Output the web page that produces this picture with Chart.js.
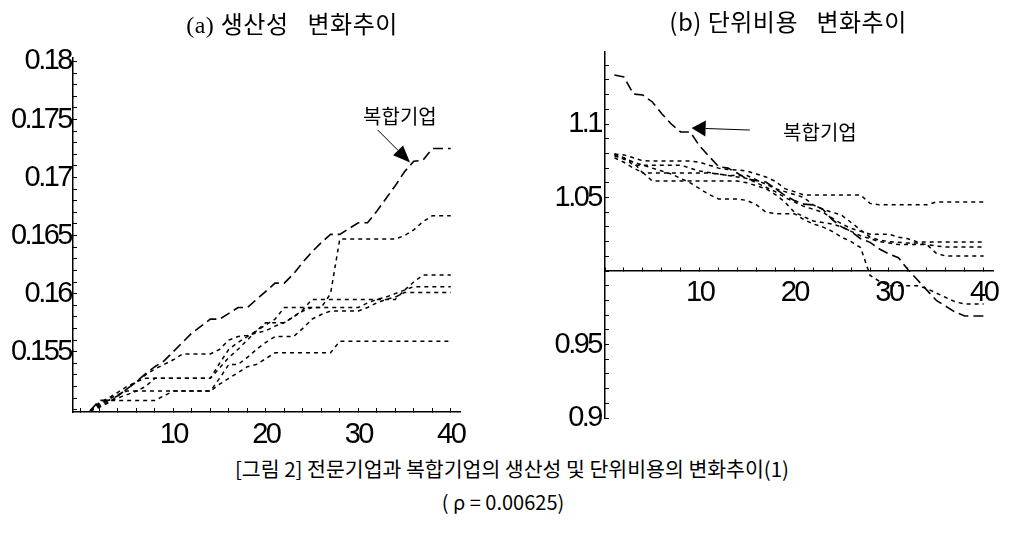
<!DOCTYPE html>
<html>
<head>
<meta charset="utf-8">
<script src="https://cdn.jsdelivr.net/npm/chart.js@4.4.0/dist/chart.umd.min.js"></script>
<style>
  html, body { margin: 0; padding: 0; background: #fff; }
  #wrap { position: relative; width: 1009px; height: 538px; overflow: hidden; }
  .box { position: absolute; top: 0; height: 450px; }
  #boxA { left: 0; width: 480px; }
  #boxB { left: 520px; width: 489px; }
  .txt { position: absolute; white-space: pre; transform: translate(-50%, -50%); color: #000; }
  #titleA { left: 292px; top: 22px; letter-spacing: 0.5px; font: 24px "Liberation Serif", "Noto Sans CJK KR", serif; }
  #titleB { left: 788px; top: 20px; letter-spacing: 0.5px; font: 24px "Noto Sans CJK KR", sans-serif; }
  #cap1 { left: 512px; top: 468px; font: 20.5px "Noto Sans CJK KR", sans-serif; }
  #cap2 { left: 503px; top: 501px; font: 20px "Noto Sans CJK KR", sans-serif; }
</style>
</head>
<body>
<div id="wrap">
  <div class="box" id="boxA"><canvas id="prodChart" width="480" height="450"></canvas></div>
  <div class="box" id="boxB"><canvas id="costChart" width="489" height="450"></canvas></div>
  <div class="txt" id="titleA">(a) 생산성&#8194; 변화추이</div>
  <div class="txt" id="titleB">(b) 단위비용&#8194; 변화추이</div>
  <div class="txt" id="cap1">[그림 2] 전문기업과 복합기업의 생산성 및 단위비용의 변화추이(1)</div>
  <div class="txt" id="cap2">( ρ = 0.00625)</div>
</div>
<script>
// period index (x axis)
const periods = [1, 2, 3, 4, 5, 6, 7, 8, 9, 10, 11, 12, 13, 14, 15, 16, 17, 18, 19, 20,
    21, 22, 23, 24, 25, 26, 27, 28, 29, 30, 31, 32, 33, 34, 35, 36, 37, 38, 39, 40];

// (a) productivity: 복합기업 + five specialised firms
const prodMixed = [0.1499, 0.1508, 0.1508, 0.1512, 0.1518, 0.1524, 0.1531, 0.1537, 0.1542, 0.1550,
    0.1558, 0.1566, 0.1572, 0.1578, 0.1578, 0.1583, 0.1588, 0.1588, 0.1595, 0.1602,
    0.1609, 0.1609, 0.1617, 0.1627, 0.1636, 0.1644, 0.1651, 0.1651, 0.1656, 0.1661,
    0.1661, 0.1671, 0.1682, 0.1693, 0.1705, 0.1714, 0.1715, 0.1725, 0.1725, 0.1725];
const prodSpec1 = [0.1499, 0.1504, 0.1509, 0.1513, 0.1516, 0.1516, 0.1520, 0.1527, 0.1527, 0.1527,
    0.1527, 0.1527, 0.1527, 0.1527, 0.1536, 0.1545, 0.1552, 0.1560, 0.1568, 0.1573,
    0.1578, 0.1588, 0.1588, 0.1588, 0.1588, 0.1588, 0.1600, 0.1647, 0.1647, 0.1647,
    0.1647, 0.1647, 0.1647, 0.1647, 0.1650, 0.1655, 0.1662, 0.1667, 0.1667, 0.1667];
const prodSpec2 = [0.1499, 0.1502, 0.1506, 0.1512, 0.1518, 0.1524, 0.1530, 0.1535, 0.1539, 0.1543,
    0.1548, 0.1548, 0.1548, 0.1548, 0.1552, 0.1560, 0.1563, 0.1564, 0.1566, 0.1568,
    0.1572, 0.1575, 0.1580, 0.1586, 0.1595, 0.1595, 0.1595, 0.1595, 0.1595, 0.1595,
    0.1595, 0.1595, 0.1595, 0.1595, 0.1603, 0.1610, 0.1616, 0.1616, 0.1616, 0.1616];
const prodSpec3 = [0.1499, 0.1506, 0.1510, 0.1515, 0.1520, 0.1524, 0.1527, 0.1527, 0.1527, 0.1527,
    0.1527, 0.1527, 0.1527, 0.1527, 0.1540, 0.1552, 0.1558, 0.1563, 0.1568, 0.1575,
    0.1575, 0.1575, 0.1580, 0.1585, 0.1588, 0.1588, 0.1588, 0.1588, 0.1588, 0.1588,
    0.1592, 0.1595, 0.1597, 0.1600, 0.1603, 0.1606, 0.1606, 0.1606, 0.1606, 0.1606];
const prodSpec4 = [0.1499, 0.1503, 0.1507, 0.1510, 0.1513, 0.1516, 0.1516, 0.1516, 0.1516, 0.1516,
    0.1516, 0.1516, 0.1516, 0.1516, 0.1527, 0.1539, 0.1539, 0.1545, 0.1552, 0.1558,
    0.1563, 0.1563, 0.1563, 0.1570, 0.1578, 0.1582, 0.1585, 0.1585, 0.1585, 0.1585,
    0.1588, 0.1592, 0.1595, 0.1597, 0.1601, 0.1601, 0.1601, 0.1601, 0.1601, 0.1601];
const prodSpec5 = [0.1499, 0.1505, 0.1508, 0.1508, 0.1508, 0.1508, 0.1508, 0.1508, 0.1512, 0.1516,
    0.1516, 0.1516, 0.1516, 0.1516, 0.1522, 0.1527, 0.1532, 0.1537, 0.1539, 0.1544,
    0.1549, 0.1549, 0.1549, 0.1549, 0.1549, 0.1549, 0.1549, 0.1559, 0.1559, 0.1559,
    0.1559, 0.1559, 0.1559, 0.1559, 0.1559, 0.1559, 0.1559, 0.1559, 0.1559, 0.1559];

// (b) unit cost
const costMixed = [1.1333, 1.1320, 1.1204, 1.1197, 1.1150, 1.1070, 1.1000, 1.0946, 1.0946, 1.0850,
    1.0780, 1.0710, 1.0700, 1.0665, 1.0626, 1.0615, 1.0605, 1.0560, 1.0515, 1.0480,
    1.0455, 1.0450, 1.0420, 1.0350, 1.0300, 1.0270, 1.0220, 1.0195, 1.0150, 1.0116,
    1.0090, 1.0010, 0.9940, 0.9870, 0.9800, 0.9760, 0.9720, 0.9694, 0.9694, 0.9694];
const costSpec1 = [1.0796, 1.0790, 1.0770, 1.0750, 1.0748, 1.0748, 1.0748, 1.0748, 1.0748, 1.0740,
    1.0720, 1.0700, 1.0690, 1.0687, 1.0680, 1.0660, 1.0640, 1.0610, 1.0560, 1.0540,
    1.0517, 1.0517, 1.0517, 1.0517, 1.0517, 1.0517, 1.0517, 1.0460, 1.0450, 1.0450,
    1.0450, 1.0450, 1.0450, 1.0450, 1.0470, 1.0470, 1.0470, 1.0470, 1.0470, 1.0470];
const costSpec2 = [1.0796, 1.0770, 1.0740, 1.0667, 1.0667, 1.0667, 1.0667, 1.0667, 1.0667, 1.0667,
    1.0667, 1.0660, 1.0650, 1.0640, 1.0630, 1.0600, 1.0570, 1.0540, 1.0500, 1.0470,
    1.0440, 1.0420, 1.0400, 1.0360, 1.0320, 1.0290, 1.0270, 1.0250, 1.0250, 1.0250,
    1.0230, 1.0220, 1.0197, 1.0197, 1.0197, 1.0197, 1.0197, 1.0197, 1.0197, 1.0197];
const costSpec3 = [1.0780, 1.0770, 1.0720, 1.0720, 1.0720, 1.0720, 1.0720, 1.0720, 1.0700, 1.0680,
    1.0670, 1.0660, 1.0650, 1.0650, 1.0650, 1.0620, 1.0590, 1.0560, 1.0540, 1.0520,
    1.0500, 1.0450, 1.0420, 1.0400, 1.0380, 1.0330, 1.0280, 1.0230, 1.0210, 1.0200,
    1.0195, 1.0190, 1.0190, 1.0180, 1.0170, 1.0163, 1.0163, 1.0163, 1.0163, 1.0163];
const costSpec4 = [1.0770, 1.0740, 1.0700, 1.0670, 1.0612, 1.0612, 1.0612, 1.0612, 1.0612, 1.0612,
    1.0612, 1.0612, 1.0612, 1.0612, 1.0600, 1.0580, 1.0560, 1.0520, 1.0470, 1.0400,
    1.0370, 1.0340, 1.0330, 1.0320, 1.0300, 1.0270, 1.0240, 1.0220, 1.0200, 1.0190,
    1.0180, 1.0180, 1.0180, 1.0180, 1.0120, 1.0102, 1.0102, 1.0102, 1.0102, 1.0102];
const costSpec5 = [1.0790, 1.0760, 1.0740, 1.0720, 1.0700, 1.0680, 1.0660, 1.0630, 1.0600, 1.0560,
    1.0520, 1.0490, 1.0490, 1.0490, 1.0480, 1.0450, 1.0400, 1.0390, 1.0390, 1.0390,
    1.0350, 1.0320, 1.0300, 1.0270, 1.0230, 1.0200, 1.0160, 0.9970, 0.9930, 0.9900,
    0.9900, 0.9900, 0.9900, 0.9880, 0.9850, 0.9820, 0.9790, 0.9776, 0.9776, 0.9776];

const mixedLabel = '복합기업';

const tickFont = {family: '"Liberation Sans", Arial, sans-serif', size: 29};

function toPoints(vals) {
    return vals.map((v, i) => ({x: periods[i], y: v}));
}

function lineSet(label, vals, mixed) {
    return {
        label: label,
        data: toPoints(vals),
        borderColor: '#000',
        borderWidth: mixed ? 1.6 : 1.5,
        borderDash: mixed ? [10, 5] : [4, 4],
        pointRadius: 0,
        tension: 0,
        fill: false
    };
}

// squeeze the tick digits together (the original uses a narrow face)
const narrowTicks = {
    id: 'narrowTicks',
    beforeDraw(chart) { chart.ctx.letterSpacing = '-2.5px'; },
    afterDraw(chart) { chart.ctx.letterSpacing = '0px'; }
};

// arrow + text note placed in data coordinates
const arrowNote = {
    id: 'arrowNote',
    afterDatasetsDraw(chart, args, opts) {
        const {ctx} = chart;
        const xs = chart.scales.x, ys = chart.scales.y;
        const tip = [xs.getPixelForValue(opts.tip[0]), ys.getPixelForValue(opts.tip[1])];
        const tail = [xs.getPixelForValue(opts.tail[0]), ys.getPixelForValue(opts.tail[1])];
        const ang = Math.atan2(tip[1] - tail[1], tip[0] - tail[0]);
        const L = opts.head, W = opts.headWidth;
        const bx = tip[0] - L * Math.cos(ang), by = tip[1] - L * Math.sin(ang);
        ctx.save();
        ctx.letterSpacing = '0px';
        ctx.strokeStyle = '#000';
        ctx.fillStyle = '#000';
        ctx.lineWidth = 1;
        ctx.beginPath();
        ctx.moveTo(tail[0], tail[1]);
        ctx.lineTo(bx, by);
        ctx.stroke();
        ctx.beginPath();
        ctx.moveTo(tip[0], tip[1]);
        ctx.lineTo(bx + W * Math.sin(ang), by - W * Math.cos(ang));
        ctx.lineTo(bx - W * Math.sin(ang), by + W * Math.cos(ang));
        ctx.closePath();
        ctx.fill();
        ctx.font = opts.font;
        ctx.textAlign = 'center';
        ctx.textBaseline = 'middle';
        ctx.fillText(opts.text, xs.getPixelForValue(opts.textAt[0]), ys.getPixelForValue(opts.textAt[1]));
        ctx.restore();
    }
};

let ctx = document.getElementById('prodChart').getContext('2d');
let prodChart = new Chart(ctx, {
    type: 'line',
    data: {
        datasets: [
            lineSet(mixedLabel, prodMixed, true),
            lineSet('전문기업 1', prodSpec1),
            lineSet('전문기업 2', prodSpec2),
            lineSet('전문기업 3', prodSpec3),
            lineSet('전문기업 4', prodSpec4),
            lineSet('전문기업 5', prodSpec5)
        ]
    },
    plugins: [narrowTicks, arrowNote],
    options: {
        responsive: false,
        animation: false,
        layout: {padding: {left: 0, top: 58, right: 20, bottom: 0}},
        plugins: {
            legend: {display: false},
            tooltip: {enabled: false},
            arrowNote: {
                tip: [35.6, 0.1713], tail: [32.1, 0.1741], head: 17, headWidth: 7,
                text: mixedLabel, textAt: [34.5, 0.17526],
                font: '20px "Noto Sans CJK KR", sans-serif'
            }
        },
        scales: {
            x: {
                type: 'linear',
                min: -0.85,
                max: 41,
                afterFit: s => { s.height = 38; },
                border: {color: '#000', width: 1.5},
                grid: {drawOnChartArea: false, tickLength: -4, color: '#000'},
                ticks: {
                    stepSize: 2,
                    includeBounds: false,
                    autoSkip: false,
                    maxRotation: 0,
                    minRotation: 0,
                    padding: 10,
                    color: '#000',
                    font: tickFont,
                    callback: v => (v % 10 === 0 && v !== 0) ? String(v) : ''
                }
            },
            y: {
                type: 'linear',
                min: 0.1498,
                max: 0.1803,
                afterFit: s => { s.width = 73; },
                border: {color: '#000', width: 1.5},
                grid: {drawOnChartArea: false, tickLength: -4, color: '#000'},
                ticks: {
                    stepSize: 0.001,
                    includeBounds: false,
                    autoSkip: false,
                    padding: 6,
                    color: '#000',
                    font: tickFont,
                    callback: v => {
                        let m = Math.round(v * 1000);
                        return (m % 5 === 0 && m !== 150) ? String(m / 1000) : '';
                    }
                }
            }
        }
    }
});

let ctx2 = document.getElementById('costChart').getContext('2d');
let costChart = new Chart(ctx2, {
    type: 'line',
    data: {
        datasets: [
            lineSet(mixedLabel, costMixed, true),
            lineSet('전문기업 1', costSpec1),
            lineSet('전문기업 2', costSpec2),
            lineSet('전문기업 3', costSpec3),
            lineSet('전문기업 4', costSpec4),
            lineSet('전문기업 5', costSpec5)
        ]
    },
    plugins: [narrowTicks, arrowNote],
    options: {
        responsive: false,
        animation: false,
        layout: {padding: {left: 0, top: 52, right: 9, bottom: 32}},
        plugins: {
            legend: {display: false},
            tooltip: {enabled: false},
            arrowNote: {
                tip: [9.15, 1.0973], tail: [15.3, 1.0959], head: 14, headWidth: 8,
                text: mixedLabel, textAt: [22.7, 1.0946],
                font: '20px "Noto Sans CJK KR", sans-serif'
            }
        },
        scales: {
            x: {
                type: 'linear',
                position: {y: 1},
                min: 0,
                max: 41,
                afterFit: s => { s.height = 0; },
                border: {color: '#000', width: 1.5},
                grid: {drawOnChartArea: false, tickLength: -4, color: '#000'},
                ticks: {
                    stepSize: 2,
                    includeBounds: false,
                    autoSkip: false,
                    maxRotation: 0,
                    minRotation: 0,
                    padding: 9,
                    color: '#000',
                    font: tickFont,
                    callback: v => (v % 10 === 0 && v !== 0) ? String(v) : ''
                }
            },
            y: {
                type: 'linear',
                min: 0.9,
                max: 1.149,
                afterFit: s => { s.width = 85; },
                border: {color: '#000', width: 1.5},
                grid: {drawOnChartArea: false, tickLength: -4, color: '#000'},
                ticks: {
                    stepSize: 0.01,
                    includeBounds: false,
                    autoSkip: false,
                    padding: 8,
                    color: '#000',
                    font: tickFont,
                    callback: v => {
                        let m = Math.round(v * 100);
                        return (m % 5 === 0 && m !== 100) ? String(m / 100) : '';
                    }
                }
            }
        }
    }
});
</script>
</body>
</html>
